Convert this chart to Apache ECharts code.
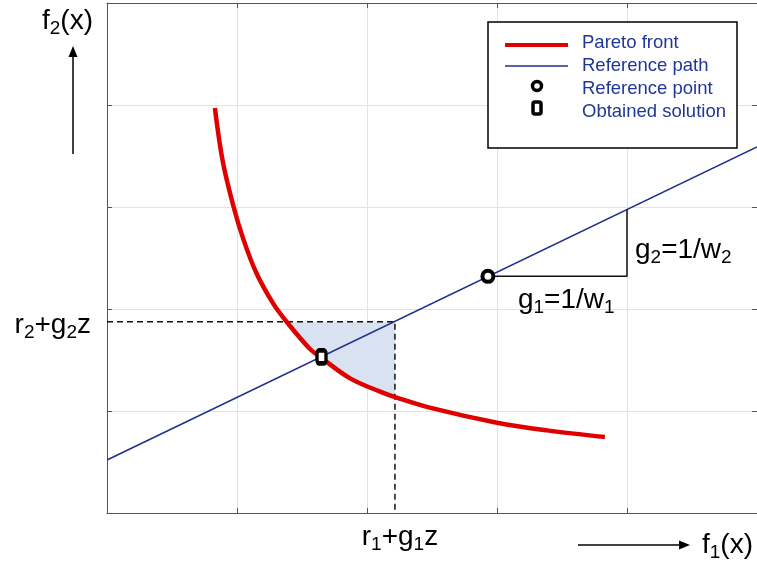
<!DOCTYPE html>
<html><head><meta charset="utf-8">
<script src="https://cdn.jsdelivr.net/npm/echarts@6/dist/echarts.min.js"></script>
<style>html,body{margin:0;padding:0;background:#fff}#c{width:757px;height:568px}</style>
</head><body><div id="c"></div>
<script>
// ---- data (axis units: 0..5 on both axes) ----
const paretoX = [0.83, 0.89, 0.97, 1.05, 1.15, 1.28, 1.385, 1.56, 1.65, 1.87, 2.1, 2.215, 2.49, 3.0, 3.385, 3.83];
const paretoY = [3.97, 3.45, 3.02, 2.68, 2.35, 2.05, 1.87, 1.61, 1.52, 1.32, 1.19, 1.137, 1.03, 0.885, 0.81, 0.745];
const pathX = [0, 5];
const pathY = [0.52, 3.59];
const refPoint = [2.93, 2.32];
const legCornerX = 4.0;
const solution = [1.65, 1.53];
const dashX = 2.215;
const dashY = 1.875;
const axisMin = 0, axisMax = 5, axisStep = 1;
const legendNames = ['Pareto front', 'Reference path', 'Reference point', 'Obtained solution'];

const FONT = 'Liberation Sans, Arial, sans-serif';
const RED = '#e00000', NAVY = '#1f2f8e', LEGTXT = '#203796';

function pathYAt(x) { return pathY[0] + (pathY[1] - pathY[0]) * (x - pathX[0]) / (pathX[1] - pathX[0]); }
function curveXAtY(y) {
  for (let i = 0; i < paretoY.length - 1; i++) {
    if (paretoY[i] >= y && paretoY[i + 1] <= y) {
      const t = (paretoY[i] - y) / (paretoY[i] - paretoY[i + 1]);
      return paretoX[i] + t * (paretoX[i + 1] - paretoX[i]);
    }
  }
  return paretoX[0];
}
function curveYAtX(x) {
  for (let i = 0; i < paretoX.length - 1; i++) {
    if (paretoX[i] <= x && paretoX[i + 1] >= x) {
      const t = (x - paretoX[i]) / (paretoX[i + 1] - paretoX[i]);
      return paretoY[i] + t * (paretoY[i + 1] - paretoY[i]);
    }
  }
  return paretoY[paretoY.length - 1];
}
const xStart = curveXAtY(dashY);
const shade = [[xStart, dashY], [dashX, dashY], [dashX, curveYAtX(dashX)]];
for (let i = paretoX.length - 1; i >= 0; i--) {
  if (paretoX[i] > xStart && paretoX[i] < dashX) shade.push([paretoX[i], paretoY[i]]);
}

const paretoData = paretoX.map((x, i) => [x, paretoY[i]]);
const pathData = pathX.map((x, i) => [x, pathY[i]]);
const legData = [refPoint, [legCornerX, refPoint[1]], [legCornerX, pathYAt(legCornerX)]];
const dashData = [[axisMin, dashY], [dashX, dashY], [dashX, axisMin]];

function makeAxis(position, grid) {
  return {
    type: 'value', position: position, min: axisMin, max: axisMax, interval: axisStep,
    axisLabel: { show: false },
    axisLine: { show: true, onZero: false, lineStyle: { color: '#555', width: 1 } },
    axisTick: { show: true, inside: true, length: 5, lineStyle: { color: '#555', width: 1 } },
    splitLine: { show: grid, lineStyle: { color: '#e2e2e2', width: 1 } }
  };
}

const option = {
  animation: false,
  backgroundColor: '#fff',
  grid: { left: 107, right: 0, top: 3, bottom: 55 },
  xAxis: [makeAxis('bottom', true), makeAxis('top', false)],
  yAxis: [makeAxis('left', true), makeAxis('right', false)],
  series: [
    {
      type: 'custom', name: 'shade', silent: true, z: 1,
      data: [[0, 0]],
      renderItem: function (params, api) {
        return { type: 'polygon', shape: { points: shade.map(p => api.coord(p)) }, style: { fill: '#d9e2f0' } };
      }
    },
    {
      type: 'line', name: 'dashed', data: dashData, symbol: 'none', z: 2,
      lineStyle: { color: '#111', width: 1.5, type: [6, 4] }
    },
    {
      type: 'line', name: legendNames[0], data: paretoData, symbol: 'none', smooth: 0.35, z: 3,
      lineStyle: { color: RED, width: 4.5 }
    },
    {
      type: 'line', name: legendNames[1], data: pathData, symbol: 'none', z: 4,
      lineStyle: { color: NAVY, width: 1.5 }
    },
    {
      type: 'line', name: 'legs', data: legData, symbol: 'none', z: 4,
      lineStyle: { color: '#111', width: 1.5 }
    },
    {
      type: 'scatter', name: legendNames[2], data: [refPoint], symbol: 'circle', symbolSize: 11, z: 5,
      itemStyle: { color: '#fff', borderColor: '#000', borderWidth: 4, opacity: 1 }
    },
    {
      type: 'scatter', name: legendNames[3], data: [solution], symbol: 'roundRect', symbolSize: [9, 13], z: 5,
      itemStyle: { color: '#fff', borderColor: '#000', borderWidth: 4, opacity: 1 }
    }
  ]
};

const chart = echarts.init(document.getElementById('c'), null, { renderer: 'canvas' });
chart.setOption(option);

const P = p => chart.convertToPixel({ xAxisIndex: 0, yAxisIndex: 0 }, p);
const richStyle = {
  m: { fontSize: 28, fontFamily: FONT, fill: '#000', lineHeight: 34 },
  s: { fontSize: 19, fontFamily: FONT, fill: '#000', lineHeight: 17, verticalAlign: 'bottom' }
};
function label(text, x, y, align) {
  return { type: 'text', x: x, y: y, z: 100,
    style: { text: text, rich: richStyle, align: align || 'left', verticalAlign: 'middle', fill: '#000' } };
}
const pRef = P(refPoint);
const pCorner = P([legCornerX, refPoint[1]]);
const pCornerTop = P([legCornerX, pathYAt(legCornerX)]);
const pDash = P([dashX, dashY]);

const graphics = [
  label('{m|f}{s|2}{m|(x)}', 42, 21),
  label('{m|f}{s|1}{m|(x)}', 702, 545),
  label('{m|r}{s|2}{m|+g}{s|2}{m|z}', 91, pDash[1] + 4, 'right'),
  label('{m|r}{s|1}{m|+g}{s|1}{m|z}', pDash[0] + 5, 537, 'center'),
  label('{m|g}{s|1}{m|=1/w}{s|1}', pRef[0] + 30, pRef[1] + 24),
  label('{m|g}{s|2}{m|=1/w}{s|2}', pCorner[0] + 8, (pCorner[1] + pCornerTop[1]) / 2 + 7),
  // arrows
  { type: 'line', z: 100, shape: { x1: 73, y1: 154, x2: 73, y2: 56 }, style: { stroke: '#000', lineWidth: 1.5 } },
  { type: 'polygon', z: 100, shape: { points: [[73, 46], [68.5, 57], [77.5, 57]] }, style: { fill: '#000' } },
  { type: 'line', z: 100, shape: { x1: 578, y1: 545, x2: 680, y2: 545 }, style: { stroke: '#000', lineWidth: 1.5 } },
  { type: 'polygon', z: 100, shape: { points: [[690, 545], [679, 540.5], [679, 549.5]] }, style: { fill: '#000' } },
  // legend
  { type: 'rect', z: 100, shape: { x: 488, y: 22, width: 249, height: 126 }, style: { fill: '#fff', stroke: '#000', lineWidth: 1.5 } },
  { type: 'line', z: 101, shape: { x1: 505, y1: 45, x2: 568, y2: 45 }, style: { stroke: RED, lineWidth: 4 } },
  { type: 'line', z: 101, shape: { x1: 505, y1: 66, x2: 568, y2: 66 }, style: { stroke: NAVY, lineWidth: 1.5 } },
  { type: 'circle', z: 101, shape: { cx: 537, cy: 86, r: 4.5 }, style: { fill: '#fff', stroke: '#000', lineWidth: 3.5 } },
  { type: 'rect', z: 101, shape: { x: 533, y: 102, width: 8, height: 12, r: 2 }, style: { fill: '#fff', stroke: '#000', lineWidth: 3.5 } }
];
const legY = [43, 66, 89, 112];
legendNames.forEach((n, i) => {
  graphics.push({ type: 'text', z: 101, x: 582, y: legY[i],
    style: { text: n, fontSize: 18.5, fontFamily: FONT, fill: LEGTXT, align: 'left', verticalAlign: 'middle' } });
});
chart.setOption({ graphic: graphics });
</script>
</body></html>
